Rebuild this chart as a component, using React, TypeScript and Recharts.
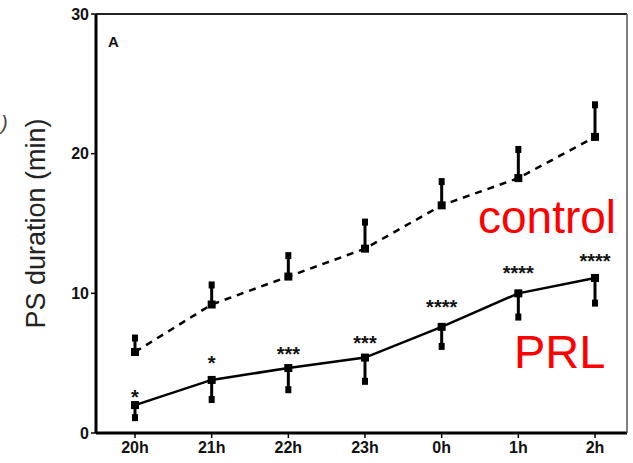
import React from 'react';
import { LineChart, Line, XAxis, YAxis, ErrorBar, LabelList, ReferenceLine } from 'recharts';

const hours = ['20h', '21h', '22h', '23h', '0h', '1h', '2h'];
const controlMean = [5.8, 9.2, 11.2, 13.2, 16.3, 18.25, 21.2];
const controlUpper = [6.8, 10.6, 12.7, 15.1, 18.0, 20.3, 23.5];
const prlMean = [2.0, 3.8, 4.65, 5.4, 7.6, 10.0, 11.1];
const prlLower = [1.1, 2.4, 3.1, 3.7, 6.2, 8.3, 9.3];
const stars = ['*', '*', '***', '***', '****', '****', '****'];
const starLevel = [2.9, 5.4, 6.0, 6.8, 9.4, 11.8, 12.7];
const yTicks = [0, 10, 20, 30];

const data = hours.map((h, i) => ({
  hour: h,
  control: controlMean[i],
  controlUp: controlUpper[i],
  controlErr: [0, controlUpper[i] - controlMean[i]],
  prl: prlMean[i],
  prlLow: prlLower[i],
  prlErr: [prlMean[i] - prlLower[i], 0],
  starLevel: starLevel[i],
  stars: stars[i],
}));

const square = (w: number, h: number) => (props: any) => {
  const { cx, cy, index } = props;
  if (cx == null || cy == null) return <g key={`d${index}`} />;
  return <rect key={`d${index}`} x={cx - w / 2} y={cy - h / 2} width={w} height={h} fill="#000" />;
};

const FONT = '"Liberation Sans", Arial, Helvetica, sans-serif';

export default function App() {
  return (
    <div style={{ position: 'absolute', left: 0, top: 0, width: 633, height: 463, background: '#fff' }}>
      <LineChart width={633} height={463} data={data} margin={{ top: 14, right: 0, bottom: 0, left: 0 }}>
        <XAxis
          dataKey="hour"
          padding={{ left: 39, right: 32 }}
          axisLine={{ stroke: '#000', strokeWidth: 3 }}
          tickLine={{ stroke: '#000', strokeWidth: 1.5 }}
          tickSize={5}
          tickMargin={4}
          height={30}
          tick={{ fill: '#111', fontSize: 16, fontWeight: 'bold', fontFamily: FONT }}
          interval={0}
        />
        <YAxis
          domain={[0, 30]}
          ticks={yTicks}
          width={96}
          axisLine={{ stroke: '#000', strokeWidth: 3 }}
          tickLine={{ stroke: '#000', strokeWidth: 1.5 }}
          tickSize={5}
          tick={{ fill: '#111', fontSize: 16, fontWeight: 'bold', fontFamily: FONT }}
          label={{
            content: (p: any) => {
              const vb = p.viewBox || { x: 0, y: 14, width: 96, height: 419 };
              const cx = vb.x + 36;
              const cy = vb.y + vb.height / 2;
              return (
                <text
                  x={cx}
                  y={cy}
                  transform={`rotate(-90 ${cx} ${cy})`}
                  textAnchor="middle"
                  dominantBaseline="central"
                  fontSize={27}
                  fontFamily={FONT}
                  fill="#222"
                >
                  PS duration (min)
                </text>
              );
            },
          }}
        />
        <YAxis
          yAxisId="right"
          orientation="right"
          width={6}
          domain={[0, 30]}
          tick={false}
          tickLine={false}
          axisLine={{ stroke: '#555', strokeWidth: 1.5 }}
        />
        <ReferenceLine y={30} stroke="#222" strokeWidth={2} />
        <Line
          dataKey="control"
          type="linear"
          stroke="#000"
          strokeWidth={2.5}
          strokeDasharray="7 6"
          dot={square(8, 8)}
          activeDot={false}
          isAnimationActive={false}
        >
          <ErrorBar dataKey="controlErr" direction="y" width={0} strokeWidth={3} stroke="#000" />
        </Line>
        <Line
          dataKey="controlUp"
          stroke="none"
          dot={square(6, 7)}
          activeDot={false}
          legendType="none"
          isAnimationActive={false}
        />
        <Line
          dataKey="prl"
          type="linear"
          stroke="#000"
          strokeWidth={2.5}
          dot={square(8, 8)}
          activeDot={false}
          isAnimationActive={false}
        >
          <ErrorBar dataKey="prlErr" direction="y" width={0} strokeWidth={3} stroke="#000" />
        </Line>
        <Line
          dataKey="prlLow"
          stroke="none"
          dot={square(6, 7)}
          activeDot={false}
          legendType="none"
          isAnimationActive={false}
        />
        <Line
          dataKey="starLevel"
          stroke="none"
          dot={false}
          activeDot={false}
          legendType="none"
          isAnimationActive={false}
        >
          <LabelList
            dataKey="stars"
            content={(p: any) => (
              <text
                x={p.x}
                y={p.y + 12}
                textAnchor="middle"
                fontSize={20}
                fontWeight="bold"
                fontFamily={FONT}
                fill="#111"
              >
                {p.value}
              </text>
            )}
          />
        </Line>
      </LineChart>
      <svg width={633} height={463} style={{ position: 'absolute', left: 0, top: 0, pointerEvents: 'none' }}>
        <text x={108} y={47} fontSize={15} fontWeight="bold" fontFamily={FONT} fill="#111">A</text>
        <text x={1} y={130} fontSize={20} fontStyle="italic" fontFamily={FONT} fill="#444">)</text>
        <text x={478} y={233} fontSize={46} fontFamily={FONT} fill="#ff0000">control</text>
        <text x={514} y={368} fontSize={47} fontFamily={FONT} fill="#ff0000">PRL</text>
      </svg>
    </div>
  );
}
